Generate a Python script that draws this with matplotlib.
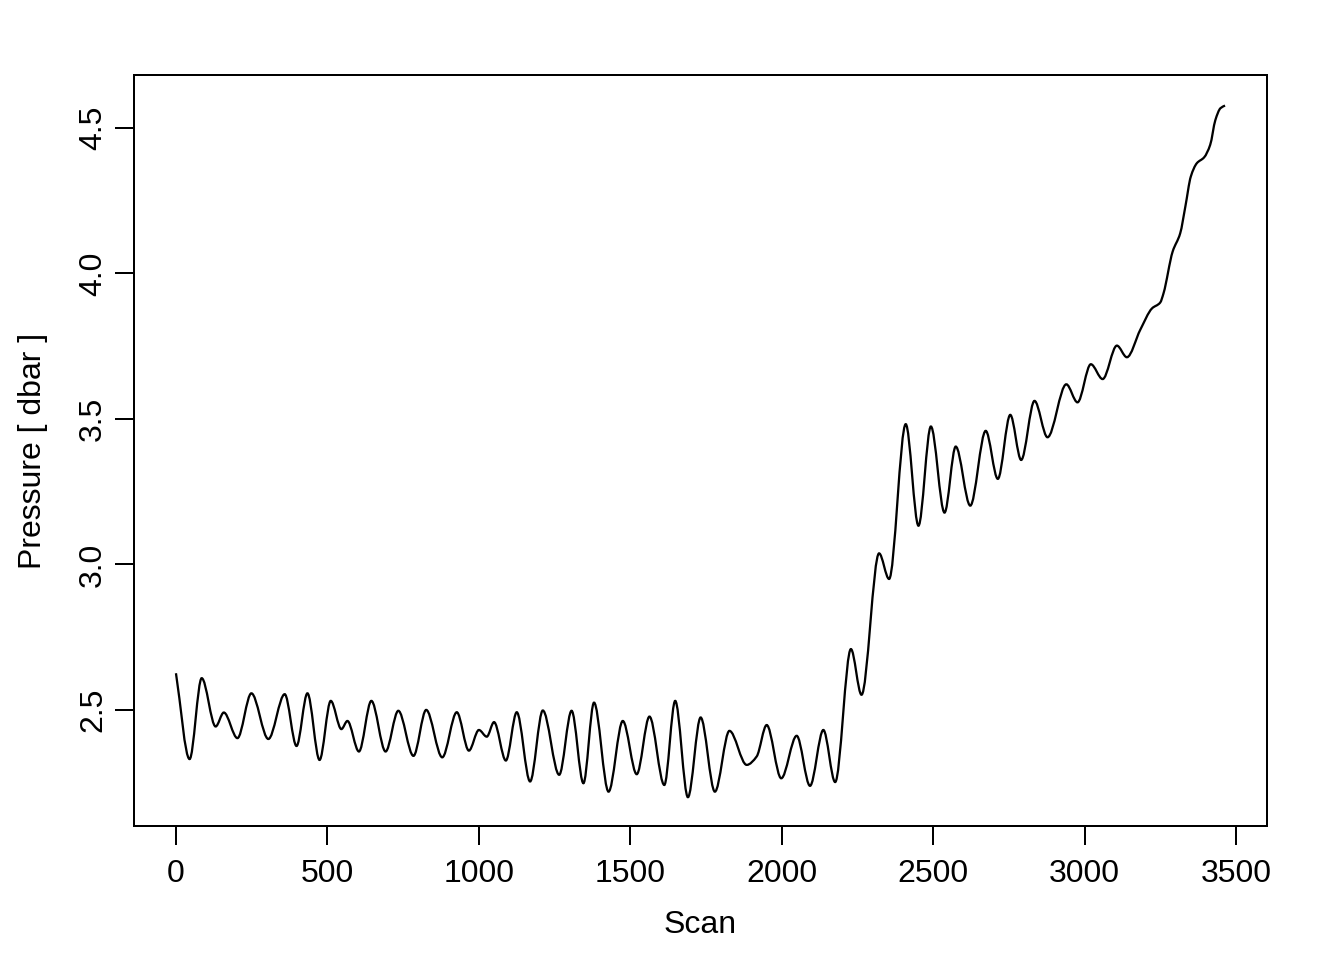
import numpy as np
import matplotlib
matplotlib.use("Agg")
import matplotlib.pyplot as plt
from matplotlib.path import Path
from matplotlib.patches import PathPatch

# turning points of the pressure trace
scan = [0, 45, 85, 131, 158, 203, 249, 305, 359, 398,
        434, 474, 511, 546, 566, 604, 645, 692, 734, 784,
        826, 879, 927, 967, 1000, 1026, 1050, 1089, 1125, 1169,
        1211, 1265, 1306, 1345, 1380, 1428, 1475, 1521, 1563, 1612,
        1648, 1690, 1732, 1779, 1827, 1884, 1917, 1950, 1998, 2049,
        2093, 2137, 2176, 2228, 2263, 2321, 2354, 2409, 2451, 2492,
        2537, 2574, 2622, 2673, 2713, 2754, 2790, 2834, 2877, 2939,
        2976, 3020, 3059, 3106, 3139, 3183, 3222, 3249, 3260, 3290,
        3315, 3332, 3350, 3370, 3394, 3414, 3431, 3448, 3463]
pressure = [2.626, 2.331, 2.609, 2.443, 2.491, 2.403, 2.557, 2.400, 2.554, 2.376,
            2.557, 2.328, 2.531, 2.434, 2.462, 2.357, 2.531, 2.357, 2.497, 2.342,
            2.500, 2.337, 2.492, 2.360, 2.431, 2.408, 2.458, 2.326, 2.492, 2.254,
            2.498, 2.277, 2.497, 2.248, 2.525, 2.219, 2.462, 2.279, 2.477, 2.242,
            2.531, 2.200, 2.474, 2.219, 2.428, 2.311, 2.340, 2.448, 2.265, 2.411,
            2.239, 2.431, 2.252, 2.709, 2.552, 3.038, 2.950, 3.482, 3.133, 3.474,
            3.178, 3.405, 3.202, 3.459, 3.294, 3.514, 3.359, 3.562, 3.437, 3.619,
            3.557, 3.688, 3.637, 3.752, 3.712, 3.806, 3.880, 3.900, 3.932, 4.075,
            4.138, 4.230, 4.333, 4.379, 4.399, 4.442, 4.527, 4.568, 4.577]

x_ticks = [0, 500, 1000, 1500, 2000, 2500, 3000, 3500]
y_ticks = [2.5, 3.0, 3.5, 4.0, 4.5]
y_tick_labels = ["2.5", "3.0", "3.5", "4.0", "4.5"]

plt.rcParams['font.family'] = ['Liberation Sans', 'DejaVu Sans']
plt.rcParams['font.size'] = 12


def smooth_path(x, y):
    # monotone cubic (pchip style) tangents, drawn as bezier segments
    x = np.asarray(x, float)
    y = np.asarray(y, float)
    h = np.diff(x)
    d = np.diff(y) / h
    m = np.zeros_like(y)
    m[0], m[-1] = d[0], d[-1]
    for i in range(1, len(x) - 1):
        if d[i - 1] * d[i] > 0:
            w1 = 2 * h[i] + h[i - 1]
            w2 = h[i] + 2 * h[i - 1]
            m[i] = (w1 + w2) / (w1 / d[i - 1] + w2 / d[i])
    verts = [(x[0], y[0])]
    codes = [Path.MOVETO]
    for i in range(len(x) - 1):
        verts += [(x[i] + h[i] / 3, y[i] + m[i] * h[i] / 3),
                  (x[i + 1] - h[i] / 3, y[i + 1] - m[i + 1] * h[i] / 3),
                  (x[i + 1], y[i + 1])]
        codes += [Path.CURVE4] * 3
    return Path(verts, codes)


fig = plt.figure(figsize=(7, 5), dpi=192)
ax = fig.add_axes([134 / 1344, 1 - 826 / 960, (1267 - 134) / 1344, (826 - 75) / 960])

ax.add_patch(PathPatch(smooth_path(scan, pressure), facecolor='none',
                       edgecolor='black', linewidth=0.85))

ax.set_xlim(-138.5, 3601.5)
ax.set_ylim(2.101, 4.682)

ax.set_xticks(x_ticks)
ax.set_xticklabels([str(t) for t in x_ticks])
ax.set_yticks(y_ticks)
ax.set_yticklabels(y_tick_labels, rotation=90, va='center')
ax.tick_params(direction='out', length=7.2, width=0.75, colors='black')
ax.tick_params(axis='x', pad=5.2)
ax.tick_params(axis='y', pad=2.5)
for s in ax.spines.values():
    s.set_linewidth(0.75)

fig.text(700 / 1344, 1 - 925 / 960, "Scan", ha='center', va='center')
fig.text(33 / 1344, 1 - 451 / 960, "Pressure [ dbar ]", ha='center', va='center',
         rotation=90)

fig.savefig("out.png", dpi=192)
